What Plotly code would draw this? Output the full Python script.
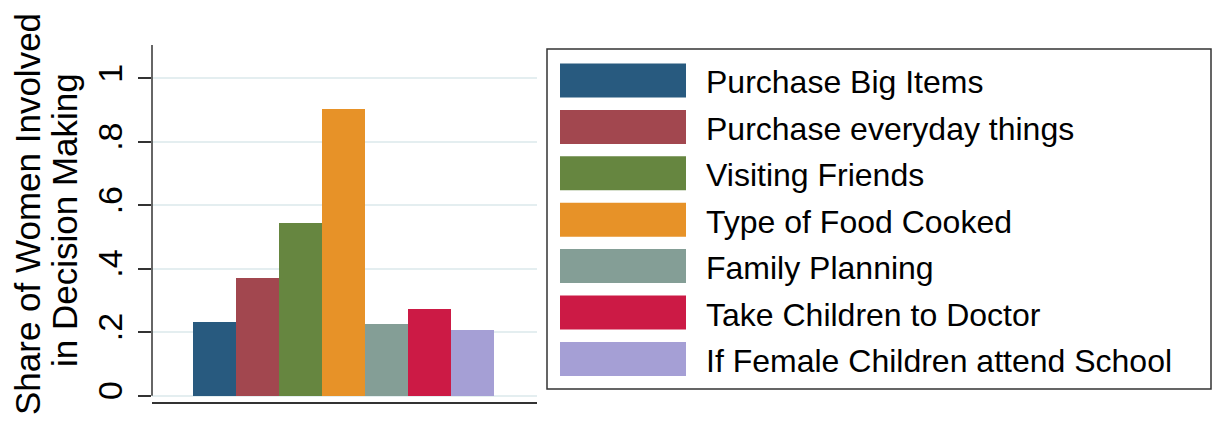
import plotly.graph_objects as go

categories = [
    "Purchase Big Items",
    "Purchase everyday things",
    "Visiting Friends",
    "Type of Food Cooked",
    "Family Planning",
    "Take Children to Doctor",
    "If Female Children attend School",
]
shares = [0.232, 0.370, 0.544, 0.903, 0.225, 0.272, 0.207]
colors = ["#285a7f", "#a2474f", "#668640", "#e79228", "#849e96", "#cc1a45", "#a59fd5"]
y_ticks = [0, 0.2, 0.4, 0.6, 0.8, 1]
y_tick_labels = ["0", ".2", ".4", ".6", ".8", "1"]

W, H = 1217, 423
L, R, T, B = 152, 537, 45, 402   # plot area in pixels
Y_RANGE = [-0.02, 1.105]
FONT = "Liberation Sans, Arial, Helvetica, sans-serif"


def px(x):
    return (x - L) / (R - L)


def py(y):
    return (B - y) / (B - T)


fig = go.Figure(go.Bar(
    x=list(range(len(shares))),
    y=shares,
    width=1,
    marker=dict(color=colors, line=dict(width=0)),
    showlegend=False,
))

fig.update_layout(
    width=W, height=H,
    margin=dict(l=L, r=W - R, t=T, b=H - B),
    paper_bgcolor="white", plot_bgcolor="white",
    font=dict(family=FONT, color="black"),
    bargap=0,
    xaxis=dict(range=[-1.45, 7.5], showticklabels=False, ticks="",
               showgrid=False, zeroline=False,
               showline=True, linecolor="#333333", linewidth=2),
    yaxis=dict(range=Y_RANGE, tickvals=y_ticks, ticktext=y_tick_labels,
               tickangle=-90, tickfont=dict(size=34, family=FONT),
               ticks="outside", ticklen=13, tickwidth=1.5, tickcolor="#333333",
               ticklabelstandoff=2,
               showgrid=True, gridcolor="#e4eef0", gridwidth=1.5,
               zeroline=False, showline=False),
)

# y axis line stops at zero like the original
fig.add_shape(type="line", xref="paper", yref="y", x0=0, x1=0,
              y0=0, y1=Y_RANGE[1], line=dict(color="#333333", width=1.5))

# y axis title, two lines
for text, xc, yc in [("Share of Women Involved", 27, 214), ("in Decision Making", 64, 220)]:
    fig.add_annotation(text=text, xref="paper", yref="paper",
                       x=px(xc), y=py(yc), xanchor="center", yanchor="middle",
                       textangle=-90, showarrow=False,
                       font=dict(size=35, family=FONT, color="black"))

# legend box drawn by hand
fig.add_shape(type="rect", xref="paper", yref="paper",
              x0=px(547), x1=px(1211), y0=py(49), y1=py(389),
              line=dict(color="#333333", width=1.5), fillcolor="white", layer="below")
row0, pitch, sh = 63.5, 46.4, 34
for i, (name, c) in enumerate(zip(categories, colors)):
    top = row0 + i * pitch
    fig.add_shape(type="rect", xref="paper", yref="paper",
                  x0=px(560), x1=px(686), y0=py(top), y1=py(top + sh),
                  line=dict(width=0), fillcolor=c)
    fig.add_annotation(text=name, xref="paper", yref="paper",
                       x=px(704), y=py(top + sh / 2 + 2), xanchor="left", yanchor="middle",
                       showarrow=False, font=dict(size=32, family=FONT, color="black"))

fig.write_html("out.html", config={"displayModeBar": False},
               post_script="document.body.style.margin = '0';")
